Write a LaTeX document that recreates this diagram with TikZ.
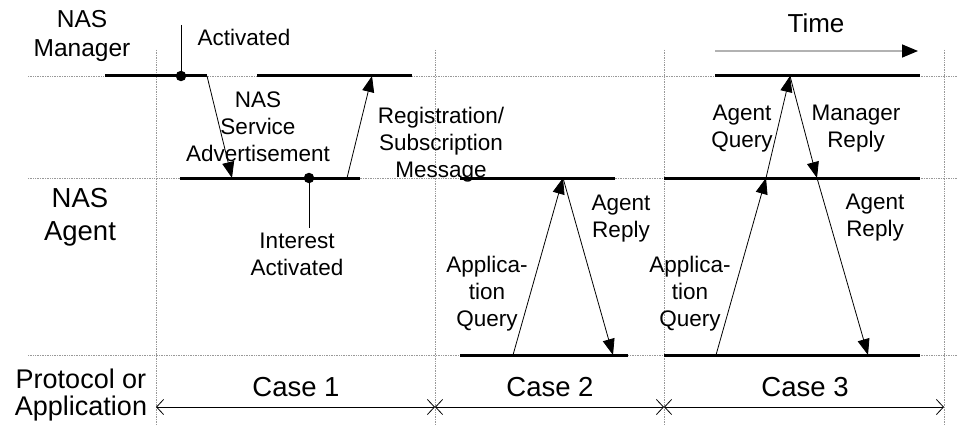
\documentclass[tikz,border=0pt]{standalone}
\usepackage{fontspec}
\setmainfont{Liberation Sans}
\usetikzlibrary{arrows.meta,positioning}

\begin{document}
\begin{tikzpicture}[
  x=1pt, y=-1pt,
  lane/.style={densely dotted, gray!80, line width=0.7pt},
  active/.style={line width=3pt},
  msg/.style={-{Triangle[length=16pt,width=12pt]}, line width=0.8pt},
  dot/.style={circle, fill, inner sep=0pt, minimum size=10.5pt},
  note/.style={font=\fontsize{22.5}{27}\selectfont, align=center, inner sep=0pt, anchor=base},
  role/.style={font=\fontsize{27}{30}\selectfont, align=center, inner sep=0pt, anchor=base},
  span/.style={{Straight Barb[length=7pt,width=15pt]}-{Straight Barb[length=7pt,width=15pt]}, line width=0.8pt}
]
\useasboundingbox (0,0) rectangle (957,425);

% Lanes and case dividers
\foreach \y in {76,178,355}
  \draw[lane] (28,\y) -- (957,\y);
\foreach \x in {156,435,664,944}
  \draw[lane] (\x,50) -- (\x,425);

% Role labels (left)
\node[role, font=\fontsize{24.5}{28.5}\selectfont] (manager) at (82,56.5) {NAS\\Manager};
\node[role, font=\fontsize{27.5}{33}\selectfont] (agent) at (80,240) {NAS\\Agent};
\node[role, font=\fontsize{27}{27}\selectfont] (app) at (81,415) {Protocol or\\Application};

% Case 1
\draw[active] (105,76) -- (207,76);
\draw[active] (257,76) -- (412,76);
\draw[active] (180,178) -- (360,178);
\node[dot] (act) at (181,76) {};
\coordinate (actend) at (181,25);
\draw[line width=0.8pt] (actend) -- (act);
\node[note] (actlabel) at (244,46) {Activated};
\coordinate (adv1) at (207,76);
\coordinate (adv2) at (232,178);
\draw[msg] (adv1) -- (adv2);
\node[note] (advlabel) at (258,161) {NAS\\Service\\Advertisement};
\coordinate (reg1) at (347,178);
\coordinate (reg2) at (372,76);
\draw[msg] (reg1) -- (reg2);
\node[note] (reglabel) at (441,177) {Registration/\\Subscription\\Message};
\node[dot] (interest) at (309,178) {};
\coordinate (intend) at (309,228);
\draw[line width=0.8pt] (interest) -- (intend);
\node[note] (intlabel) at (297,275) {Interest\\Activated};

% Case 2
\draw[active] (460,178) -- (615,178);
\draw[active] (460,355) -- (628,355);
\coordinate (q2a) at (513,355);
\coordinate (q2b) at (563,178);
\coordinate (r2b) at (613,355);
\draw[msg] (q2a) -- (q2b);
\draw[msg] (q2b) -- (r2b);
\node[note] (q2label) at (487,326) {Applica-\\tion\\Query};
\node[note] (r2label) at (621,237) {Agent\\Reply};

% Case 3
\draw[active] (715,76) -- (920,76);
\draw[active] (664,178) -- (920,178);
\draw[active] (664,355) -- (920,355);
\coordinate (q3a) at (716,355);
\coordinate (q3b) at (766,178);
\coordinate (q3c) at (790,76);
\coordinate (r3b) at (817,178);
\coordinate (r3c) at (868,355);
\draw[msg] (q3a) -- (q3b);
\draw[msg] (q3b) -- (q3c);
\draw[msg] (q3c) -- (r3b);
\draw[msg] (r3b) -- (r3c);
\node[note] (q3label) at (690,326) {Applica-\\tion\\Query};
\node[note] (aqlabel) at (742,147) {Agent\\Query};
\node[note] (mrlabel) at (856,147) {Manager\\Reply};
\node[note] (r3label) at (875,236) {Agent\\Reply};

% Time arrow
\coordinate (t1) at (715,51);
\coordinate (t2) at (918,51);
\draw[gray!60, line width=1.5pt, -{Triangle[length=16pt,width=13pt,color=black]}] (t1) -- (t2);
\node[role, font=\fontsize{26}{30}\selectfont] (time) at (816,33) {Time};

% Case spans
\coordinate (s0) at (156,407);
\coordinate (s1) at (435,407);
\coordinate (s2) at (664,407);
\coordinate (s3) at (944,407);
\draw[span] (s0) -- (s1);
\draw[span] (s1) -- (s2);
\draw[span] (s2) -- (s3);
\node[role, font=\fontsize{27.5}{30}\selectfont] (case1) at (296,396) {Case 1};
\node[role, font=\fontsize{27.5}{30}\selectfont] (case2) at (550,396) {Case 2};
\node[role, font=\fontsize{27.5}{30}\selectfont] (case3) at (805,396) {Case 3};

\end{tikzpicture}
\end{document}
